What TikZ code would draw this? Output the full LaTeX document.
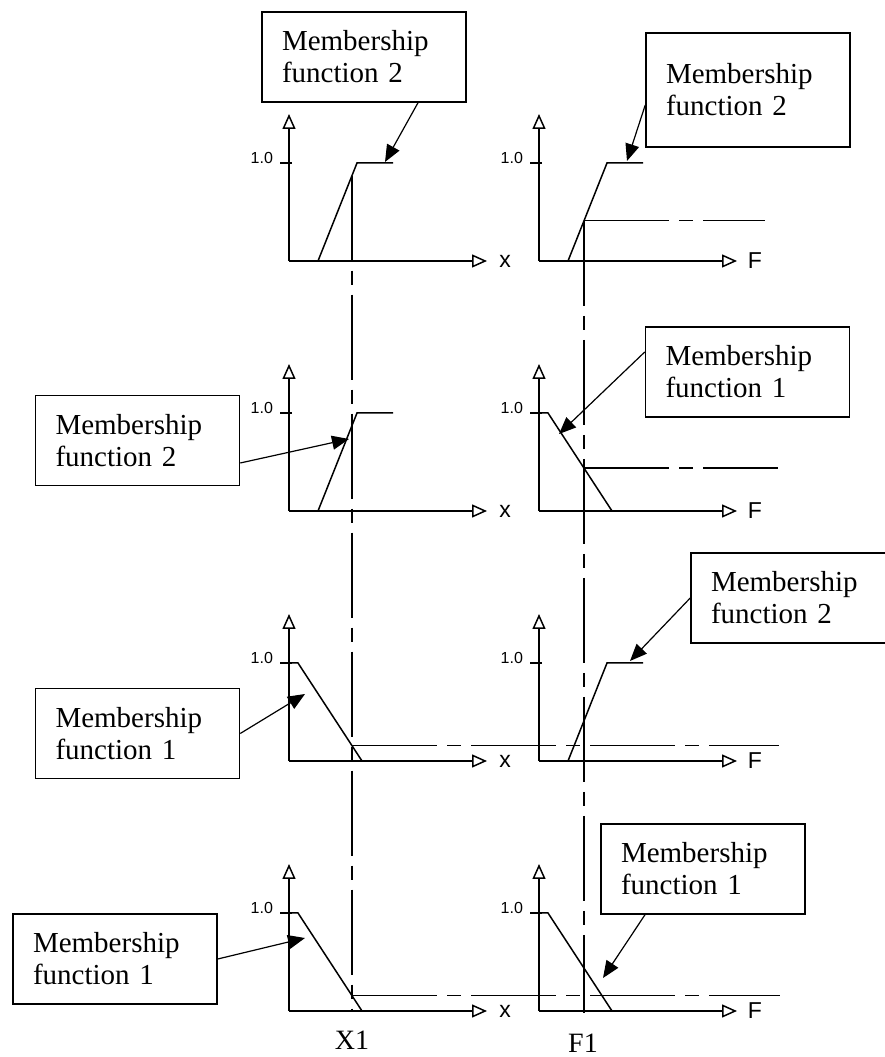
\documentclass[tikz,border=0pt]{standalone}
\usepackage{fontspec}
\setmainfont{Liberation Serif}
\newfontfamily\axisfont{Liberation Sans}
\usetikzlibrary{arrows.meta}

\begin{document}
\begin{tikzpicture}[x=1pt, y=1pt, line width=1.5pt,
    axis/.style={-{Triangle[open,length=15pt,width=13pt]}},
    guide/.style={line width=1.4pt, dash pattern=on 85pt off 10pt on 14pt off 10pt},
    mfbox/.style={draw, fill=white, line width=1.5pt, text width=164pt, inner xsep=20pt,
      minimum height=90pt, align=left, font=\fontsize{29}{32}\selectfont},
    callout/.style={line width=1.2pt, -{Triangle[length=17pt,width=14pt]}},
    ticklbl/.style={anchor=east, font=\axisfont\fontsize{16}{16}\selectfont},
    axlbl/.style={font=\axisfont\fontsize{23}{23}\selectfont}]
  \useasboundingbox (0,0) rectangle (885,1057);
  \clip (0,0) rectangle (885,1057);

  % axes of the eight graphs
  \foreach \gx/\gy/\gl/\n in {289/796/x/1, 539/796/F/2, 289/546/x/3, 539/546/F/4,
                              289/296/x/5, 539/296/F/6, 289/46/x/7, 539/46/F/8} {
    \draw[axis] (\gx,\gy) -- ++(0,147);
    \draw[axis] (\gx,\gy) -- ++(198,0);
    \draw (\gx-9,\gy+98) -- ++(12,0);
    \node[ticklbl] (one\n) at (\gx-12,\gy+103) {1.0};
    \node[axlbl] (ax\n) at (\gx+216,\gy) {\gl};
  }

  % row 1
  \begin{scope}[shift={(289,796)}]
    \draw (29,0) -- (68,98) -- (104,98);
    \coordinate (x1top) at (63,85.4);
    \coordinate (tip1) at (96,99);
  \end{scope}
  \begin{scope}[shift={(539,796)}]
    \draw (29,0) -- (68,98) -- (104,98);
    \coordinate (f1top) at (45,40.2);
    \coordinate (h1end) at (226,40.2);
    \coordinate (tip2) at (88,100);
  \end{scope}

  % row 2
  \begin{scope}[shift={(289,546)}]
    \draw (29,0) -- (68,98) -- (104,98);
    \coordinate (tip3) at (60,72);
  \end{scope}
  \begin{scope}[shift={(539,546)}]
    \draw (0,98) -- (9,98) -- (73,0);
    \coordinate (cut2) at (45,42.9);
    \coordinate (h2end) at (239,42.9);
    \coordinate (tip4) at (20,77);
  \end{scope}

  % row 3
  \begin{scope}[shift={(289,296)}]
    \draw (0,98) -- (9,98) -- (73,0);
    \coordinate (cut3) at (63,15.3);
    \coordinate (h3end) at (490,15.3);
    \coordinate (tip5) at (16,67);
  \end{scope}
  \begin{scope}[shift={(539,296)}]
    \draw (29,0) -- (68,98) -- (104,98);
    \coordinate (tip6) at (91,100);
  \end{scope}

  % row 4
  \begin{scope}[shift={(289,46)}]
    \draw (0,98) -- (9,98) -- (73,0);
    \coordinate (cut4) at (63,15.3);
    \coordinate (h4end) at (491,15.3);
    \coordinate (x1bot) at (63,0);
    \coordinate (tip7) at (16,73);
  \end{scope}
  \begin{scope}[shift={(539,46)}]
    \draw (0,98) -- (9,98) -- (73,0);
    \coordinate (f1bot) at (45,-2);
    \coordinate (tip8) at (64,33);
  \end{scope}

  % cut lines
  \draw[guide] (x1top) -- (x1bot);
  \draw[guide] (f1top) -- (f1bot);
  \draw[guide] (f1top) -- (h1end);
  \draw[guide] (cut2) -- (h2end);
  \draw[guide] (cut3) -- (h3end);
  \draw[guide] (cut4) -- (h4end);

  % callouts
  \node[mfbox] (b1) at (364,1000) {Membership\\function 2};
  \node[mfbox, minimum height=114pt] (b2) at (748,967) {Membership\\function 2};
  \node[mfbox] (b3) at (137.5,616.5) {Membership\\function 2};
  \node[mfbox] (b4) at (747.5,685) {Membership\\function 1};
  \node[mfbox] (b5) at (137.5,323.5) {Membership\\function 1};
  \node[mfbox] (b6) at (793,459) {Membership\\function 2};
  \node[mfbox] (b7) at (115,98) {Membership\\function 1};
  \node[mfbox] (b8) at (703,188) {Membership\\function 1};

  \draw[callout] ([xshift=54pt]b1.south) -- (tip1);
  \draw[callout] ([yshift=-15pt]b2.west) -- (tip2);
  \draw[callout] ([yshift=-22.5pt]b3.east) -- (tip3);
  \draw[callout] ([yshift=20pt]b4.west) -- (tip4);
  \draw[callout] (b5.east) -- (tip5);
  \draw[callout] (b6.west) -- (tip6);
  \draw[callout] (b7.east) -- (tip7);
  \draw[callout] ([xshift=-58pt]b8.south) -- (tip8);

  \node[font=\fontsize{28}{28}\selectfont] (x1) at (352,17) {X1};
  \node[font=\fontsize{28}{28}\selectfont] (f1) at (583,14) {F1};
\end{tikzpicture}
\end{document}
